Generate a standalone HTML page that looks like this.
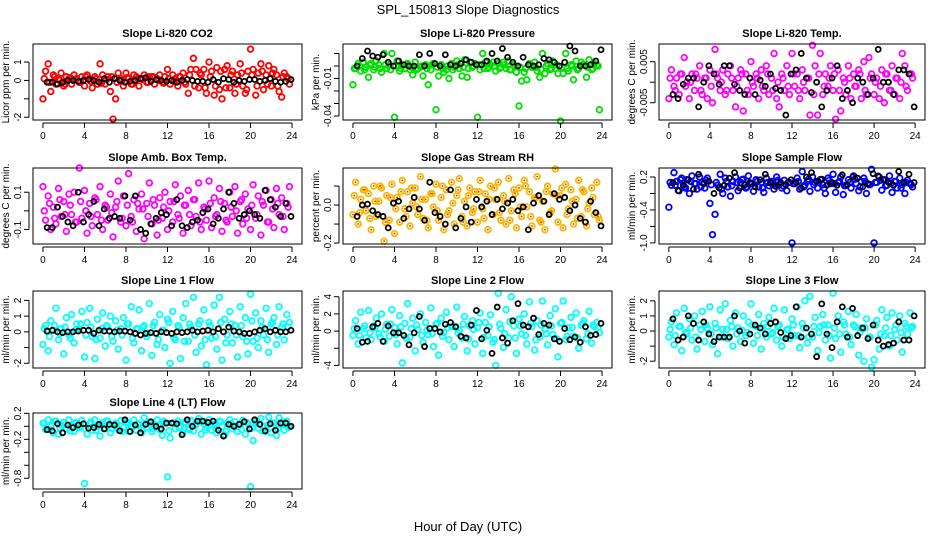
<!DOCTYPE html>
<html><head><meta charset="utf-8">
<style>
html,body{margin:0;padding:0;background:#fff;}
svg{display:block;font-family:"Liberation Sans",sans-serif;}
</style></head>
<body>
<svg id="chart" width="936" height="540" viewBox="0 0 936 540" xmlns="http://www.w3.org/2000/svg">
<rect x="0" y="0" width="936" height="540" fill="#fff"/>
<text x="468" y="14" text-anchor="middle" font-size="13">SPL_150813  Slope Diagnostics</text>
<text x="468" y="531" text-anchor="middle" font-size="13">Hour of Day (UTC)</text>
</svg>
<script>
var xTicks=[0,4,8,12,16,20,24];
var titles=["Slope Li-820 CO2","Slope Li-820 Pressure","Slope Li-820 Temp.","Slope Amb. Box Temp.","Slope Gas Stream RH","Slope Sample Flow","Slope Line 1 Flow","Slope Line 2 Flow","Slope Line 3 Flow","Slope Line 4 (LT) Flow"];
var yTitles=["Licor ppm per min.","kPa per min.","degrees C per min.","degrees C per min.","percent per min.","ml/min per min.","ml/min per min.","ml/min per min.","ml/min per min.","ml/min per min."];
var colors=["#ff0000","#00e000","#ff00ff","#ff00ff","#f7b800","#0000ff","#00ffff","#00ffff","#00ffff","#00ffff"];
var yDomains=[[-2.15,1.98],[-0.0432,0.0176],[-0.0092,0.0093],[-0.178,0.23],[-0.205,0.195],[-1.02,0.364],[-2.3,2.6],[-4.3,4.67],[-2.45,2.65],[-0.965,0.205]];
var yTickVals=[[-2,-1,0,1],[-0.04,-0.03,-0.02,-0.01,0,0.01],[-0.005,0,0.005],[-0.1,0,0.1],[-0.2,-0.1,0,0.1],[-1.0,-0.7,-0.4,-0.1,0.2],[-2,-1,0,1,2],[-4,-2,0,2,4],[-2,-1,0,1,2],[-0.8,-0.6,-0.4,-0.2,0,0.2]];
var yTickLabels=[["-2","","0","1"],["-0.04","","","-0.01","",""],["-0.005","","0.005"],["-0.1","","0.1"],["-0.2","","0.0",""],["-1.0","","-0.4","","0.2"],["-2","","0","1","2"],["-4","","0","2","4"],["-2","","0","1","2"],["-0.8","","","-0.2","","0.2"]];

var colCO2=[-1.0,0.5,0.9,-0.6,0.3,-0.2,0.1,0.4,-0.3,0.2,0.1,-0.2,0.3,0.1,-0.1,0.2,-0.3,0.3,0.1,-0.4,0.2,-0.2,0.9,0.3,-0.2,0.2,-0.6,-2.1,-1.0,0.4,0.1,-0.3,0.4,0.1,-0.2,0.3,0.2,-0.3,0.1,0.3,-0.1,0.2,0.2,-0.2,0.1,0.3,-0.1,0.2,0.6,-0.2,0.3,0.1,-0.3,0.2,0.4,-0.2,-0.7,0.6,1.2,0.6,-0.4,0.3,0.6,-0.7,1.0,0.5,-0.8,0.7,-0.5,-1.0,0.6,0.8,-0.4,0.5,-0.7,0.3,0.9,-0.3,-0.7,0.5,1.7,0.6,-0.8,0.4,0.9,-0.5,0.3,0.8,-0.3,0.6,0.3,-0.6,-0.9,0.4,0.2,-0.2];
var coreCO2=[0.1,-0.1,0.2,0,-0.2,0.15,0.05,-0.1,0.2,-0.05,0.1,-0.15,0.05,0.2,-0.1,0,0.15,-0.2,0.1,0.05,-0.1,0.2,0,-0.15,0.1,-0.05,0.2,-0.1,0.3,-0.3,0.4,-0.4,0.2,-0.3,0.5,-0.4,0.3,-0.2,0.4,-0.5,0.3,-0.3,0.5,-0.2,0.4,-0.3,0.2,0.1];
var blkCO2=[-0.1,-0.1,-0.2,-0.1,0,0,-0.05,0,0.05,0,-0.1,0.1,-0.1,0.1,0,-0.1,-0.05,0,0.1,0.15,-0.05,0.05,0,-0.05,0,-0.1,0,0.05,0,-0.05,-0.05,-0.1,0.05,-0.1,0.1,0.05,-0.1,0,-0.05,0.05,0.05,-0.05,0,0.1,-0.05,-0.1,-0.05,0.05];
var colPres=[-0.015,-0.002,0.002,-0.004,0.003,-0.001,-0.009,0.002,-0.003,0.004,0.001,-0.005,0.01,-0.002,0.001,0.01,-0.041,0.004,-0.004,0.001,-0.002,0.002,-0.003,-0.007,0.003,-0.002,-0.001,-0.008,0.001,-0.015,-0.003,0.002,-0.035,-0.008,0.001,-0.005,-0.003,-0.01,0.002,-0.001,0.004,-0.002,-0.008,0.005,-0.009,0.003,-0.001,0.002,-0.041,-0.003,0.01,0.003,-0.002,0.001,0.003,-0.004,0.002,-0.001,0.003,-0.002,0.004,-0.003,0.001,-0.005,-0.032,-0.012,-0.005,-0.011,0.002,-0.001,0.003,-0.004,-0.009,0.01,-0.006,0.002,-0.003,0.004,-0.002,-0.006,-0.044,-0.006,0.01,-0.004,0.001,-0.011,0.004,-0.002,0.003,0.001,-0.009,0.005,-0.003,0.002,0.001,-0.035];
var corePres=[-0.002,0,-0.003,0.001,-0.001,-0.002,0.001,-0.003,0,-0.002,0.001,-0.001,-0.003,0,-0.002,0.001,-0.001,-0.002,0,-0.003,0.001,-0.001,-0.002,0,0.001,-0.002,-0.001,0,-0.002,0.001,-0.003,0,-0.001,-0.002,0.001,-0.001,-0.003,0,-0.002,0.001,-0.001,-0.002,0,-0.003,0.001,-0.001,-0.002,0];
var blkPres=[0,0.006,0.012,0.008,0.007,0.009,0.003,0,0.004,0.001,0,0,0.009,0,0.01,0.002,0,0.009,0.001,0,0.002,0.005,0.003,0.001,0.001,0.004,0.01,0.004,0.014,0.007,0.003,0,0.007,0.001,0,0.001,0.006,0.005,0.003,0,0.003,0.016,0.012,0,0,0.001,0.004,0.013];
var colTemp=[-0.004,0.003,-0.001,0.001,-0.003,0.002,0.006,0,-0.004,0.002,-0.002,0.001,0.004,-0.003,0.001,-0.004,0.003,-0.005,0.008,0.001,-0.002,0.003,-0.003,0.002,0.004,-0.002,-0.006,0.001,0.003,-0.007,0.002,-0.003,0.005,-0.001,0.002,-0.004,0.003,-0.002,0.004,-0.003,0.001,0.007,-0.004,-0.006,0.002,-0.002,0.004,-0.003,0.007,-0.001,0.002,-0.004,0.003,-0.002,0.001,-0.008,0.009,0.004,-0.008,0.007,-0.003,0.002,-0.001,0.004,-0.002,-0.009,0.003,-0.007,0.001,-0.003,0.004,-0.004,0.002,-0.001,0.003,-0.004,0.005,-0.003,0.006,0.002,-0.003,0.001,-0.004,0.003,-0.005,0.002,-0.002,0.004,-0.003,0.001,-0.004,0.007,0.004,-0.002,0.002,0.001];
var coreTemp=[0.001,-0.002,0.002,-0.001,0,0.002,-0.002,0.001,-0.001,0.002,0,-0.002,0.001,-0.001,0.002,-0.002,0,0.001,-0.001,0.002,-0.002,0,0.001,-0.001,0.002,-0.002,0,0.001,-0.003,0.002,-0.001,0.001,0.002,-0.002,0,0.001,-0.001,0.002,-0.002,0.001,0,-0.001,0.002,-0.002,0.001,0,-0.001,0.002];
var blkTemp=[-0.003,-0.004,-0.0005,0.001,0.001,-0.006,0,0.004,0.002,-0.0005,0.004,0.004,-0.0005,-0.002,-0.003,0.001,-0.003,0.0005,-0.001,0.002,-0.0015,-0.002,-0.008,0.002,0.003,0.007,0.001,-0.0025,0,-0.006,-0.002,0.001,0.004,-0.004,-0.002,-0.005,0.001,0,-0.003,0.001,0.008,0,0,-0.003,0.003,0.003,0.002,-0.006];
var colAmb=[0.13,-0.05,0.08,-0.1,0.02,-0.07,0.12,-0.03,0.05,-0.11,0.09,-0.02,0.1,-0.06,0.23,-0.04,0.11,-0.12,0.04,-0.08,0.07,-0.02,0.13,-0.1,0.03,-0.05,0.09,-0.14,0.02,0.16,-0.06,0.08,-0.08,0.2,-0.03,0.06,-0.11,0.01,0.09,-0.15,0.04,0.15,-0.07,0.03,-0.13,0.07,-0.04,0.1,-0.1,0.05,-0.06,0.14,-0.02,0.08,-0.12,0.03,0.11,-0.08,0.06,-0.03,0.15,-0.1,0.02,-0.05,0.16,-0.09,0.07,-0.02,0.12,-0.11,0.04,-0.06,0.1,-0.03,0.13,-0.12,0.05,-0.07,0.09,0.01,-0.1,0.14,-0.04,0.08,-0.13,0.03,0.11,-0.06,0.06,-0.09,0.12,-0.02,0.07,-0.1,0.04,0.13];
var coreAmb=[0.0,0.04,-0.04,0.06,-0.02,0.03,-0.06,0.05,0,-0.03,0.06,-0.05,0.02,-0.01,0.05,-0.04,0.03,-0.06,0.04,0.01,-0.03,0.06,-0.05,0.02,0,0.05,-0.04,0.03,-0.02,0.06,-0.06,0.01,0.04,-0.03,0.05,-0.05,0.02,0.0,0.06,-0.04,0.03,-0.02,0.05,-0.06,0.01,0.04,-0.03,0.02];
var blkAmb=[-0.09,-0.09,0.02,-0.03,-0.06,-0.08,0.1,-0.06,-0.02,0.05,-0.08,0.01,-0.04,-0.03,-0.04,0.08,-0.05,0.08,-0.1,-0.12,-0.07,-0.04,-0.01,-0.02,-0.08,0.06,-0.08,-0.09,-0.06,-0.05,-0.01,0.01,-0.07,-0.04,0.01,0.1,0.04,-0.04,-0.02,0,-0.02,-0.04,0.11,0.06,0.02,-0.03,0.04,-0.03];
var colRH=[-0.05,0.12,-0.1,0.03,0.08,-0.03,0.06,-0.13,0.1,-0.06,0.02,0.09,-0.19,0.05,-0.08,0.11,-0.15,0.04,-0.09,0.13,-0.02,0.07,-0.11,0.01,0.09,-0.05,0.15,-0.07,0.03,-0.12,0.06,-0.01,0.11,-0.08,0.04,-0.13,0.08,-0.03,0.12,-0.1,0.05,0.14,-0.06,0.02,-0.11,0.09,-0.04,0.07,-0.09,0.13,-0.02,0.06,-0.13,0.1,-0.05,0.03,0.12,-0.08,0.05,-0.1,0.14,-0.03,0.08,-0.12,0.09,-0.06,0.13,-0.01,0.07,-0.11,0.04,0.15,-0.08,0.02,-0.13,0.1,-0.04,0.06,0.19,-0.09,0.05,-0.12,0.11,-0.02,0.08,-0.1,0.03,0.13,-0.06,0.07,-0.11,0.01,0.09,-0.05,0.12,-0.08];
var coreRH=[0.05,-0.04,0.08,-0.07,0.02,0.1,-0.09,0.04,-0.02,0.07,-0.06,0.09,-0.01,0.03,-0.08,0.06,-0.03,0.1,-0.05,0.01,0.08,-0.09,0.05,-0.02,0.07,-0.07,0.03,0.09,-0.04,0.02,-0.08,0.06,-0.01,0.1,-0.06,0.04,-0.09,0.07,-0.03,0.05,0.09,-0.05,0.02,-0.07,0.08,-0.02,0.04,-0.06];
var blkRH=[-0.06,0,0.005,-0.03,-0.05,-0.06,-0.12,0.01,0.02,-0.07,-0.02,0.04,-0.02,-0.08,0.12,-0.04,-0.06,-0.1,0.08,-0.12,-0.07,-0.01,-0.09,0.03,-0.01,0.02,-0.05,0.03,-0.02,0.01,0.03,-0.03,-0.01,-0.13,0.01,0.05,0.02,-0.05,0.06,0.03,0.04,-0.03,0,-0.07,-0.09,0.02,-0.04,-0.11];
var colSamp=[-0.35,0.05,0.28,0.12,-0.05,0.18,0.02,0.15,-0.1,0.22,0.08,-0.02,0.2,0.1,0.0,0.18,-0.28,-0.85,-0.48,0.05,0.25,-0.1,0.18,0.02,-0.15,0.12,0.2,-0.05,0.1,0.16,0.0,0.22,0.08,-0.06,0.15,0.02,0.1,-0.08,0.18,0.04,0.12,-0.02,0.2,0.06,0.0,0.14,-0.05,0.1,-1.0,0.08,0.18,-0.02,0.3,0.05,0.12,-0.06,0.2,0.1,0.0,0.15,0.06,-0.1,0.18,0.08,0.25,-0.08,0.1,0.2,-0.12,0.05,0.15,0.0,0.22,0.08,-0.05,0.12,0.18,-0.1,0.06,0.34,-1.0,0.1,0.2,-0.04,0.15,0.05,0.22,-0.08,0.12,0.0,0.18,0.06,-0.1,0.14,0.08,0.02];
var coreSamp=[0.1,0.05,0.15,0.0,0.12,0.08,0.02,0.14,0.06,0.1,-0.02,0.12,0.04,0.1,0.15,0.02,0.08,0.12,0.0,0.1,0.06,0.14,0.04,0.1,0.08,0.12,0.02,0.16,0.06,0.1,0.0,0.14,0.08,0.12,0.04,0.1,0.16,0.02,0.12,0.06,0.1,0.14,0.04,0.08,0.12,0.0,0.1,0.06];
var blkSamp=[0.1,-0.05,0.05,0.15,-0.02,0.25,0.08,0.12,-0.1,0.0,0.05,0.18,0.28,0.0,0.06,0.1,0.02,0.15,0.25,0.1,0.03,0.1,0.06,0.15,0.1,0.0,0.2,0.28,0.12,0.16,0.05,0.1,0.05,0.24,0.06,0.2,0.18,0.02,0.08,0.26,0.22,0.15,0.1,0.05,0.3,0.1,0.25,0.1];
var colL1=[-0.8,0.4,-1.2,0.7,0.1,1.5,-0.5,0.2,-1.4,0.9,-0.2,1.1,-0.7,0.5,0.2,1.3,-1.6,0.6,1.5,-0.3,-1.7,0.8,-0.4,1.2,-0.9,0.3,1.0,-0.6,0.7,-1.1,0.2,0.9,-1.8,0.5,1.6,-0.7,0.2,1.4,-1.2,0.4,-0.3,1.8,-1.5,0.6,-0.8,1.1,0.1,-1.0,0.8,-2.0,1.3,-0.5,0.4,-1.7,0.9,1.8,-0.6,0.3,2.2,-1.3,0.5,-0.9,1.4,-2.1,0.6,-0.4,1.7,-1.1,2.2,-1.8,0.8,-0.2,1.3,-0.7,0.4,-1.6,1.6,-0.3,0.9,-1.4,2.4,-0.6,1.2,-1.0,0.7,-0.2,1.5,-1.3,0.5,0.9,-0.8,1.6,0.3,-0.5,1.1,0.6];
var coreL1=[0.2,-0.3,0.4,-0.1,0.3,-0.4,0.1,0.5,-0.2,0.3,-0.5,0.2,0.4,-0.3,0.1,-0.2,0.5,-0.4,0.2,0.3,-0.1,0.4,-0.5,0.1,0.6,-0.4,0.3,-0.6,0.5,-0.2,0.7,-0.5,0.4,-0.3,0.6,-0.7,0.5,-0.2,0.4,-0.6,0.7,-0.4,0.3,-0.5,0.6,-0.2,0.5,0.3];
var blkL1=[0.05,0.1,0,-0.05,0,0,0.05,0.1,0.1,-0.1,0.1,0.05,0.05,0,0.05,0.05,0,-0.1,-0.2,-0.1,-0.05,-0.1,0,-0.05,-0.1,0,-0.05,0,0.1,0,0.05,0.1,0,0.2,0,0.3,0.05,0,-0.1,-0.1,0,0.1,0.2,0,0.1,0,0,0.1];
var colL2=[-0.5,1.2,-1.5,2.2,0.3,-0.8,2.4,-1.0,0.6,1.5,-0.3,2.0,-1.2,0.8,-0.6,2.5,0.4,-1.5,1.8,-3.7,0.9,3.2,-0.7,1.5,-2.3,0.2,2.0,-1.3,1.0,-0.4,2.7,-1.8,0.8,-2.8,1.5,-0.2,2.2,-1.0,0.5,-1.8,2.8,0.1,-0.8,1.7,-2.3,0.6,1.2,-1.5,0.4,2.1,-2.6,1.0,-0.5,1.9,-1.3,-4.0,4.4,0.3,-1.9,2.5,-0.8,4.0,0.6,-2.6,1.4,-0.3,2.0,-1.5,3.4,0.5,-2.2,1.2,-0.7,3.5,0.2,-1.6,1.8,-0.4,2.6,-3.0,0.9,3.5,-1.0,0.4,1.6,-0.6,2.1,-2.0,0.7,1.2,-0.9,2.3,-1.4,0.5,1.0,-0.2];
var coreL2=[0.3,-0.5,0.6,-0.2,0.4,-0.7,0.2,0.8,-0.4,0.5,-0.8,0.3,0.7,-0.5,0.1,-0.3,0.9,-0.6,0.4,0.6,-0.2,0.8,-0.9,0.2,1.0,-0.7,0.5,-1.0,0.8,-0.3,1.1,-0.8,0.6,-0.5,0.9,-1.0,0.7,-0.3,0.6,-0.9,1.0,-0.6,0.4,-0.8,0.9,-0.3,0.7,0.4];
var blkL2=[0.3,-1.3,-1.2,0.5,0.9,-1.2,0.6,-0.2,-0.2,-0.5,-1.6,-0.2,1.7,-1.8,0.3,0.3,-0.1,0.8,1.0,0.5,-0.6,-0.8,0.7,2.4,-0.9,0.1,-2.6,2.8,-0.8,-1.4,1.2,3.2,0.7,0.5,1.5,-0.4,0.9,0.7,-0.9,-1.2,0.3,-1.0,-0.7,-1.3,0.5,-0.5,-0.4,0.9];
var colL3=[-0.4,0.6,-0.9,1.2,0.3,-1.3,1.5,-0.2,0.8,-0.6,1.0,-1.2,0.4,1.3,-0.7,0.2,1.6,-0.9,0.5,-1.5,1.4,0.1,1.8,-0.5,0.7,-1.0,1.2,0.2,-0.7,1.0,-0.3,0.6,1.8,-0.8,0.3,1.1,-1.2,0.5,-0.4,0.9,-0.2,1.5,-0.6,0.4,-1.0,1.4,0.1,-0.5,0.8,-0.3,1.6,-1.1,0.5,2.0,-0.8,2.3,-0.4,0.9,-1.3,0.3,1.1,-0.6,0.4,-1.8,2.5,-0.5,1.0,-1.4,0.6,-0.2,1.3,-0.9,0.4,1.1,-1.6,0.2,-2.0,0.8,-0.4,-2.4,-1.9,0.7,-1.2,1.4,-0.3,0.9,-1.0,1.2,0.1,-0.6,1.0,-1.4,0.5,-0.2,1.2,0.3];
var coreL3=[0.1,-0.3,0.3,-0.1,0.2,-0.4,0.1,0.4,-0.2,0.2,-0.4,0.1,0.3,-0.2,0.05,-0.1,0.4,-0.3,0.2,0.3,-0.1,0.3,-0.4,0.1,0.4,-0.3,0.2,-0.4,0.3,-0.1,0.4,-0.3,0.2,-0.2,0.4,-0.4,0.3,-0.1,0.2,-0.4,0.4,-0.2,0.2,-0.3,0.4,-0.1,0.3,0.2];
var blkL3=[0.8,-0.6,-0.4,1.0,0.5,-0.6,0.6,-0.2,-0.7,-0.4,-0.4,-0.4,1.0,0,-0.8,-0.2,0.4,0.2,-0.2,0.5,0.6,-0.1,-0.5,-0.3,1.6,-0.4,0.2,-0.2,-1.7,1.8,-0.2,-1.1,0.6,1.6,-0.4,1.5,-0.3,0.2,-0.5,0.4,-0.6,-1.0,-0.9,-0.8,0.6,-0.6,-0.6,1.0];
var colL4=[0.05,-0.05,0.1,0.0,-0.1,0.08,-0.12,0.02,0.06,-0.04,0.1,0.0,-0.08,0.05,-0.02,0.09,-0.88,-0.12,0.04,-0.06,0.1,0.0,-0.15,0.06,-0.03,0.08,-0.1,0.02,0.05,-0.05,0.09,-0.02,0.07,-0.08,0.0,0.1,-0.06,0.04,-0.1,0.13,-0.02,0.06,-0.08,0.03,0.1,-0.05,-0.14,0.05,-0.78,-0.18,0.05,-0.04,0.08,0.0,-0.1,0.06,-0.03,0.09,-0.07,0.02,0.12,-0.12,0.04,-0.02,0.1,-0.06,0.03,-0.1,0.08,0.0,-0.13,0.05,0.1,-0.04,0.07,-0.08,0.02,0.09,-0.12,0.04,-0.93,-0.22,0.06,-0.03,0.12,0.0,-0.08,0.14,-0.1,0.05,-0.14,0.13,0.03,-0.06,0.08,0.0];
var coreL4=[0.05,-0.05,0.08,-0.02,0.03,-0.07,0.06,0.0,-0.04,0.07,-0.06,0.02,0.08,-0.03,0.04,-0.08,0.06,-0.01,0.03,-0.06,0.07,-0.04,0.01,0.08,-0.07,0.05,-0.02,0.06,-0.05,0.03,0.08,-0.06,0.02,-0.03,0.07,-0.08,0.04,0.0,-0.05,0.06,-0.03,0.08,-0.07,0.02,0.05,-0.04,0.07,-0.02];
var blkL4=[-0.05,-0.07,0.04,-0.1,0.02,-0.02,0.02,0.04,-0.03,-0.02,0.03,-0.04,0.03,0.02,-0.07,0.1,-0.08,0.02,-0.1,0.03,0.07,0,-0.04,0.05,0.05,0.04,-0.13,0.1,0.0,0.08,0.08,0.06,0.08,-0.06,-0.15,0.03,0.0,0.03,0.07,-0.04,0.1,0.03,-0.07,0.04,-0.06,0.05,0.05,0.0];

var colorSeries=[colCO2,colPres,colTemp,colAmb,colRH,colSamp,colL1,colL2,colL3,colL4];
var coreSeries=[coreCO2,corePres,coreTemp,coreAmb,coreRH,coreSamp,coreL1,coreL2,coreL3,coreL4];
var blackSeries=[blkCO2,blkPres,blkTemp,blkAmb,blkRH,blkSamp,blkL1,blkL2,blkL3,blkL4];

var NS="http://www.w3.org/2000/svg";
var svg=document.getElementById('chart');
var colL=[33,343,659], colR=[302,612,925];
var rowT=[44,168,291,413], rowB=[120,244,368,489];
function mk(tag,attrs,parent){var e=document.createElementNS(NS,tag);for(var k in attrs)e.setAttribute(k,attrs[k]);(parent||svg).appendChild(e);return e;}

for(var p=0;p<10;p++){
  var c=p%3, r=Math.floor(p/3);
  var L=colL[c],R=colR[c],T=rowT[r],B=rowB[r];
  var g=mk('g',{});
  
  
  var xs=(function(L,R){return function(h){return L+(h+0.96)/25.92*(R-L);};})(L,R);
  var d=yDomains[p];
  var ys=(function(T,B,d){return function(v){return B-(v-d[0])/(d[1]-d[0])*(B-T);};})(T,B,d);
  var t=mk('text',{x:(L+R)/2,y:T-7,'text-anchor':'middle','font-size':'11','font-weight':'bold'},g);
  t.textContent=titles[p];
  
  
  var yt=mk('text',{x:0,y:0,'text-anchor':'middle','font-size':'10',transform:'translate('+(L-24)+','+((T+B)/2)+') rotate(-90)'},g);
  yt.textContent=yTitles[p];
  
  
  var col=colors[p];
  var pg=mk('g',{},g);
  
  
  function dot(cx,cy){
    var ci=mk('circle',{cx:cx,cy:cy,r:2.8,fill:'none',stroke:col,'stroke-width':1.8},pg);
    
    
    if(p===4){var dd=mk('circle',{cx:cx,cy:cy,r:0.9,fill:'#ff2000'},pg);}
  }
  var cs=colorSeries[p];
  for(var i=0;i<cs.length;i++){dot(xs(i*0.25),ys(cs[i]));}
  var cr=coreSeries[p];
  for(var q=0;q<cr.length;q++){dot(xs(q*0.5+0.125),ys(cr[q]));}
  var bs=blackSeries[p];
  var bg=mk('g',{},g);
  
  
  for(var j=0;j<bs.length;j++){
    var b=mk('circle',{cx:xs(j*0.5+0.4),cy:ys(bs[j]),r:2.5,fill:'none',stroke:'#000','stroke-width':1.8},bg);
    
    
  }
  var bx=mk('rect',{x:L,y:T,width:R-L,height:B-T,fill:'none',stroke:'#000','stroke-width':1},g);
  
  
  var xa=mk('g',{},g);
  
  
  var ay=B+3;
  mk('line',{x1:xs(0),x2:xs(24),y1:ay,y2:ay,stroke:'#000'},xa);
  for(var k=0;k<xTicks.length;k++){
    var tx=xs(xTicks[k]);
    mk('line',{x1:tx,x2:tx,y1:ay,y2:ay+5,stroke:'#000'},xa);
    var lb=mk('text',{x:tx,y:ay+16,'text-anchor':'middle','font-size':'10'},xa);
    lb.textContent=xTicks[k];
    
    
  }
  var ya=mk('g',{},g);
  
  
  var tv=yTickVals[p], ax=L-4;
  mk('line',{x1:ax,x2:ax,y1:ys(tv[0]),y2:ys(tv[tv.length-1]),stroke:'#000'},ya);
  for(var m=0;m<tv.length;m++){
    var ty=ys(tv[m]);
    mk('line',{x1:ax-5,x2:ax,y1:ty,y2:ty,stroke:'#000'},ya);
    if(yTickLabels[p][m]!==''){
      var yl=mk('text',{x:0,y:0,'text-anchor':'middle','font-size':'10',transform:'translate('+(L-12)+','+ty+') rotate(-90)'},ya);
      yl.textContent=yTickLabels[p][m];
      
      
    }
  }
}
</script>
</body></html>
